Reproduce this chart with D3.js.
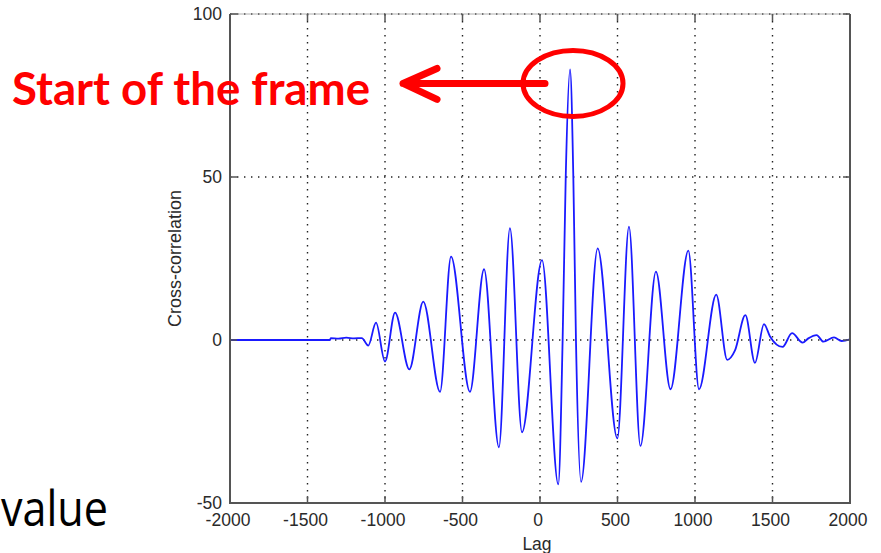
<!DOCTYPE html>
<html>
<head>
<meta charset="utf-8">
<script src="https://cdn.jsdelivr.net/npm/d3@7"></script>
<style>
  body { margin: 0; background: #fff; }
  svg { display: block; }
  .tick-label { font-family: "Liberation Sans", Arial, sans-serif; font-size: 17.5px; fill: #2a2a2a; }
</style>
</head>
<body>
<script>
const width = 881;
const height = 553;

// cross-correlation curve (lag, value)
const lags = [-2000, -1355, -1350, -1300, -1250, -1200, -1150, -1108, -1058, -1000, -935, -843, -753,
  -645, -574, -452, -361, -265, -194, -116, 13, 118, 146, 166, 194, 215, 232, 265, 372, 499, 574,
  648, 748, 842, 957, 1026, 1137, 1208, 1258, 1325, 1387, 1445, 1484, 1565, 1626, 1694, 1731,
  1785, 1828, 1897, 1946, 2000];
const corr = [0, 0, 0.6, 0.4, 0.7, 0.5, 0.6, -1.7, 5.3, -6.6, 8.4, -9.0, 11.8,
  -15.9, 25.6, -15.9, 21.7, -32.9, 34.3, -28.3, 24.5, -44.3, 0, 50, 83, 50, 0, -43.5, 28.1, -30.2, 34.8,
  -32.5, 21.0, -15.1, 27.4, -15.1, 13.9, -6.1, -3.2, 7.6, -7.0, 4.9, 1.1, -2.1, 2.1, -0.8, 0.5,
  1.5, -0.5, 0.8, -0.3, 0.2];

const xTicks = [-2000, -1500, -1000, -500, 0, 500, 1000, 1500, 2000];
const xTickLabels = ["-2000", "-1500", "-1000", "-500", "0", "500", "1000", "1500", "2000"];
const yTicks = [-50, 0, 50, 100];
const yTickLabels = ["-50", "0", "50", "100"];

const annotationText = "Start of the frame";
const peakMark = [213, 78.7]; // centre of the red ellipse, in data units
const sideText = "value";

const plot = { left: 230, right: 850, top: 14, bottom: 503 };

const x = d3.scaleLinear().domain([-2000, 2000]).range([plot.left, plot.right]);
const y = d3.scaleLinear().domain([-50, 100]).range([plot.bottom, plot.top]);

const svg = d3.select("body")
  .append("svg")
  .attr("width", width)
  .attr("height", height);

// grid
const grid = svg.append("g")
  .attr("stroke", "#222")
  .attr("stroke-width", 1.4)
  .attr("stroke-dasharray", "1.4,5.6");

grid.selectAll("line.vgrid")
  .data(xTicks.slice(1, -1))
  .enter().append("line")
  .attr("x1", d => x(d)).attr("x2", d => x(d))
  .attr("y1", plot.top).attr("y2", plot.bottom);

grid.selectAll("line.hgrid")
  .data(yTicks.slice(1))
  .enter().append("line")
  .attr("y1", d => y(d)).attr("y2", d => y(d))
  .attr("x1", plot.left).attr("x2", plot.right);

// top border is thin, the others are solid
svg.append("line")
  .attr("x1", plot.left).attr("x2", plot.right)
  .attr("y1", plot.top).attr("y2", plot.top)
  .attr("stroke", "#999")
  .attr("stroke-width", 0.8);

// data line
const points = lags.map((l, i) => [l, corr[i]]);
const line = d3.line()
  .x(d => x(d[0]))
  .y(d => y(d[1]))
  .curve(d3.curveMonotoneX);

svg.append("path")
  .datum(points)
  .attr("fill", "none")
  .attr("stroke", "#1a1aff")
  .attr("stroke-width", 1.8)
  .attr("d", line);

// box and ticks
const axisColor = "#555";
svg.append("path")
  .attr("d", `M${plot.left},${plot.top}V${plot.bottom}H${plot.right}V${plot.top}`)
  .attr("fill", "none")
  .attr("stroke", axisColor)
  .attr("stroke-width", 2);

const tickLen = 7;
const ticks = svg.append("g").attr("stroke", axisColor).attr("stroke-width", 1.5);
xTicks.forEach(t => {
  ticks.append("line").attr("x1", x(t)).attr("x2", x(t)).attr("y1", plot.bottom).attr("y2", plot.bottom - tickLen);
  ticks.append("line").attr("x1", x(t)).attr("x2", x(t)).attr("y1", plot.top).attr("y2", plot.top + tickLen);
});
yTicks.forEach(t => {
  ticks.append("line").attr("y1", y(t)).attr("y2", y(t)).attr("x1", plot.left).attr("x2", plot.left + tickLen);
  ticks.append("line").attr("y1", y(t)).attr("y2", y(t)).attr("x1", plot.right).attr("x2", plot.right - tickLen);
});

// tick labels
svg.selectAll("text.xtick")
  .data(xTicks)
  .enter().append("text")
  .attr("class", "tick-label")
  .attr("x", d => x(d) - 2)
  .attr("y", plot.bottom + 23)
  .attr("text-anchor", "middle")
  .text((d, i) => xTickLabels[i]);

svg.selectAll("text.ytick")
  .data(yTicks)
  .enter().append("text")
  .attr("class", "tick-label")
  .attr("x", plot.left - 8)
  .attr("y", d => y(d) + 6)
  .attr("text-anchor", "end")
  .text((d, i) => yTickLabels[i]);

// axis titles
svg.append("text")
  .attr("class", "tick-label")
  .attr("x", (plot.left + plot.right) / 2 - 3)
  .attr("y", 550)
  .attr("text-anchor", "middle")
  .text("Lag");

svg.append("text")
  .attr("class", "tick-label")
  .style("font-size", "18px")
  .attr("transform", `translate(181,${(plot.top + plot.bottom) / 2}) rotate(-90)`)
  .attr("text-anchor", "middle")
  .text("Cross-correlation");

// red annotation
const cx = x(peakMark[0]);
const cy = y(peakMark[1]);
const red = "#ff0000";

svg.append("ellipse")
  .attr("cx", cx).attr("cy", cy)
  .attr("rx", 50).attr("ry", 33)
  .attr("fill", "none")
  .attr("stroke", red)
  .attr("stroke-width", 5);

svg.append("path")
  .attr("d", `M${cx - 28},${cy}H${cx - 170}M${cx - 136},${cy - 15}L${cx - 170},${cy}L${cx - 136},${cy + 16}`)
  .attr("fill", "none")
  .attr("stroke", red)
  .attr("stroke-width", 7)
  .attr("stroke-linecap", "round")
  .attr("stroke-linejoin", "round");

svg.append("text")
  .attr("x", 12)
  .attr("y", 105)
  .attr("textLength", 358)
  .attr("lengthAdjust", "spacingAndGlyphs")
  .style("font-family", "Lato, 'Open Sans', sans-serif")
  .style("font-weight", "bold")
  .style("font-size", "45px")
  .style("fill", red)
  .text(annotationText);

svg.append("text")
  .attr("x", 1)
  .attr("y", 526)
  .attr("textLength", 107)
  .attr("lengthAdjust", "spacingAndGlyphs")
  .style("font-family", "'Open Sans', sans-serif")
  .style("font-size", "50px")
  .style("fill", "#000")
  .text(sideText);
</script>
</body>
</html>
